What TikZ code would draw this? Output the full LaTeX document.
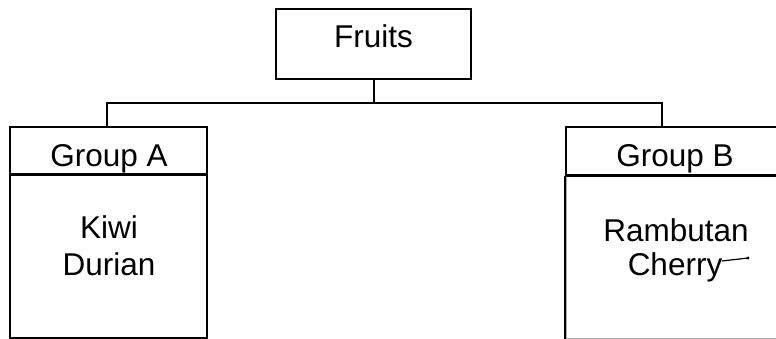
\documentclass[tikz,border=0pt]{standalone}
\usepackage{fontspec}
\setmainfont{Liberation Sans}
\begin{document}
\begin{tikzpicture}[x=1pt,y=-1pt,
  box/.style={draw=black,line width=1.6pt,rectangle,inner sep=0pt},
  wire/.style={draw=black,line width=1.6pt},
  lbl/.style={anchor=base,inner sep=0pt,font=\fontsize{31.5}{36}\selectfont}]
\useasboundingbox (0,0) rectangle (776,339);
\clip (0,0) rectangle (776,339);

% top box
\node[box,minimum width=195pt,minimum height=70pt] (fruits) at (373.5,44) {};
\node[lbl] (fruitsT) at (373.5,48) {Fruits};

% group A: header and body
\node[box,minimum width=197pt,minimum height=47pt] (groupA) at (108.5,150.5) {};
\node[box,minimum width=197pt,minimum height=162.5pt,anchor=north] (bodyA) at (groupA.south) {};
\node[lbl] (groupAT) at (109,167) {Group A};
\node[lbl] (kiwi) at (109,238) {Kiwi};
\node[lbl] (durian) at (109,275) {Durian};

% group B: header and body (runs past the right edge)
\node[box,minimum width=218pt,minimum height=48pt] (groupB) at (675,151) {};
\node[box,minimum width=218pt,minimum height=162pt,anchor=north,draw=black!35] (bodyB) at (groupB.south) {};
\draw[wire] (bodyB.north west) -- (bodyB.south west);
\draw[wire] (bodyB.north west) -- (bodyB.north east);
\node[lbl] (groupBT) at (675,167) {Group B};
\node[lbl] (rambutan) at (676,241) {Rambutan};
\node[lbl] (cherry) at (675,275) {Cherry};

% connectors
\coordinate (busL) at (107,103);
\coordinate (busM) at (374,103);
\coordinate (busR) at (662,103);
\draw[wire] (busM |- fruits.south) -- (busM);
\draw[wire] (busL |- groupA.north) -- (busL) -- (busR) -- (busR |- groupB.north);

% stray pen stroke after the last item
\coordinate (strokeS) at (722,261);
\coordinate (strokeE) at (748,258);
\draw[line width=1.2pt] (strokeS) -- (strokeE);
\fill (strokeE) circle (1.6pt);
\end{tikzpicture}
\end{document}
